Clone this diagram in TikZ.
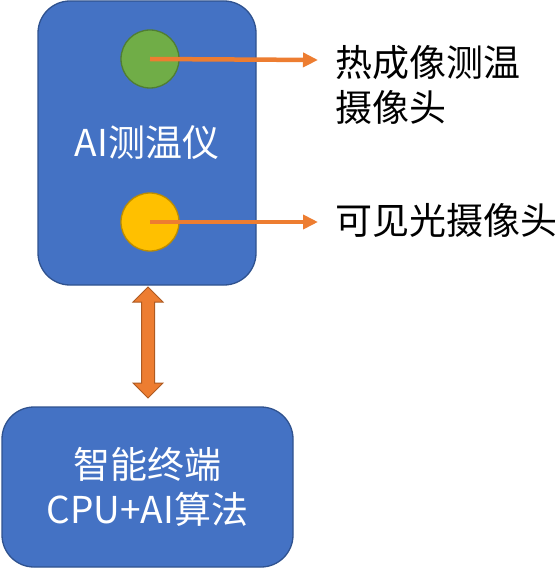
\documentclass[tikz,border=0pt]{standalone}
\usepackage{fontspec}
\setmainfont{Noto Sans CJK SC}
\usepackage{tikz}
\usetikzlibrary{arrows.meta,positioning,calc}
\definecolor{boxblue}{HTML}{4472C4}
\definecolor{boxline}{HTML}{2F528F}
\definecolor{camgreen}{HTML}{70AD47}
\definecolor{camgreenline}{HTML}{507E32}
\definecolor{camyellow}{HTML}{FFC000}
\definecolor{camyellowline}{HTML}{BC8C00}
\definecolor{linkorange}{HTML}{ED7D31}
\definecolor{linkorangeline}{HTML}{AE5A21}
\tikzstyle{box} = [rectangle,rounded corners=32pt,fill=boxblue,draw=boxline,line width=1.3pt,text=white,align=center,inner sep=0pt,font=\fontsize{37}{45}\selectfont]
\tikzstyle{cam} = [circle,line width=1.3pt,minimum size=58pt,inner sep=0pt]
\tikzstyle{label} = [anchor=west,align=left,inner sep=0pt,font=\fontsize{37}{45}\selectfont]
\tikzstyle{link} = [linkorange,line width=4.5pt,-{Triangle[length=15pt,width=14pt]}]

\begin{document}
\begin{tikzpicture}[x=1pt,y=-1pt]
        \useasboundingbox (0,0) rectangle (559,569);
        \node[box,minimum width=218pt,minimum height=284pt] (meter) at (147,143) {AI测温仪};
        \node[box,minimum width=291pt,minimum height=160pt] (term) at (147.5,487) {智能终端\\CPU+AI算法};

        \node[cam,fill=camgreen,draw=camgreenline] (ir) at (150,59) {};
        \node[cam,fill=camyellow,draw=camyellowline] (vis) at (150,222) {};

        \node[label] (irtext) at (335,84.5) {热成像测温\\摄像头};
        \node[label] (vistext) at (335,220) {可见光摄像头};
        \coordinate (irtip) at (318,60);
        \coordinate (vistip) at (318,222);
        \draw[link] (ir.center) to (irtip);
        \draw[link] (vis.center) to (vistip);

        \coordinate (up) at (148,287);
        \coordinate (dn) at (148,398);
        \draw[fill=linkorange,draw=linkorangeline,line width=1pt,line join=miter]
            (up) -- ++(15,15) -- ++(-8.5,0) -- ($(dn)+(6.5,-15)$) -- ++(8.5,0)
            -- (dn) -- ++(-15,-15) -- ++(8.5,0) -- ($(up)+(-6.5,15)$) -- ++(-8.5,0) -- cycle;
    \end{tikzpicture}
\end{document}
